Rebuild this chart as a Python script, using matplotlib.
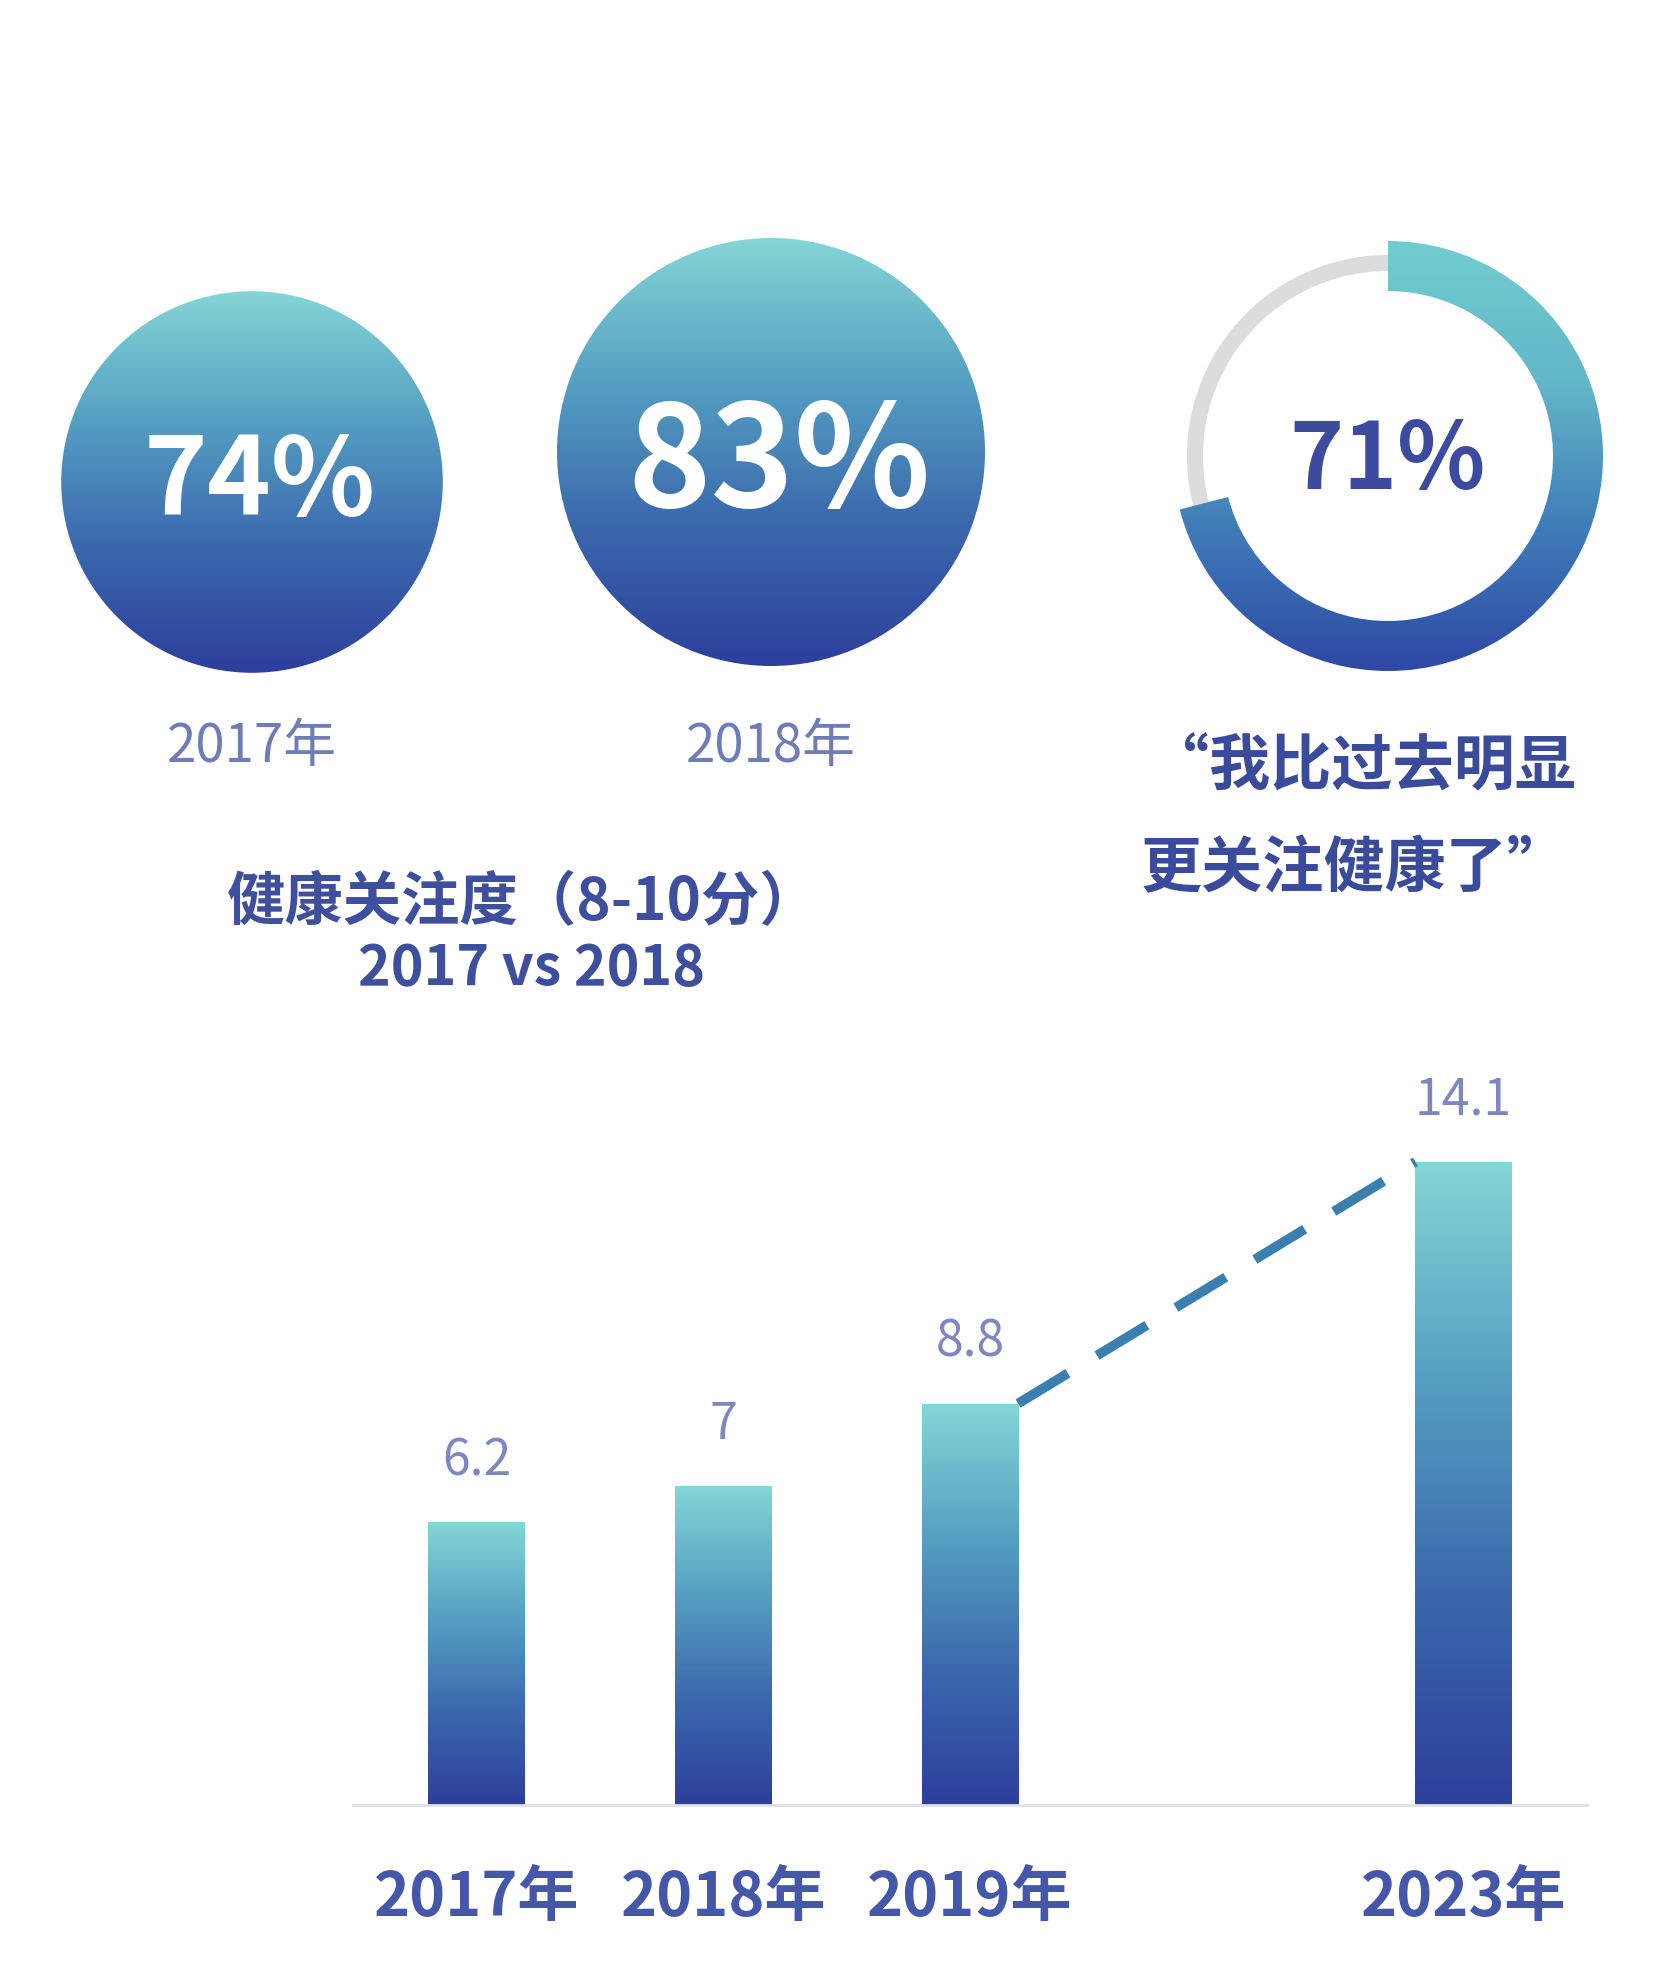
import numpy as np
import matplotlib
matplotlib.use("Agg")
import matplotlib.pyplot as plt
from matplotlib.colors import LinearSegmentedColormap
from matplotlib.patches import Circle, Wedge

plt.rcParams['font.family'] = ['Noto Sans CJK SC', 'DejaVu Sans']

# Data
circle_years = ["2017年", "2018年"]
circle_values = [74, 83]
ring_value = 71
title_lines = ["健康关注度（8-10分）", "2017 vs 2018"]
quote_lines = ["“我比过去明显", "更关注健康了”"]

bar_years = ["2017年", "2018年", "2019年", "2023年"]
bar_pos = [0, 1, 2, 4]
bar_values = [6.2, 7, 8.8, 14.1]
bar_texts = ["6.2", "7", "8.8", "14.1"]

W, H = 1654, 1975
grad = LinearSegmentedColormap.from_list(
    "grad", ["#2d3f9c", "#3b68ad", "#55a0c2", "#84d6d6"])
ring_grad = LinearSegmentedColormap.from_list(
    "ring", ["#2e48a4", "#3f7cb8", "#62b6c8", "#72cdd0"])
vgrad = np.linspace(0, 1, 256).reshape(-1, 1)

fig = plt.figure(figsize=(W / 100, H / 100), dpi=100)
fig.patch.set_facecolor("white")

# Background axes in pixel units (y measured downward from the top)
bg = fig.add_axes([0, 0, 1, 1])
bg.set_xlim(0, W)
bg.set_ylim(H, 0)
bg.axis("off")

def grad_circle(cx, cy, r, cmap):
    c = Circle((cx, cy), r, facecolor="none", edgecolor="none")
    bg.add_patch(c)
    im = bg.imshow(vgrad, cmap=cmap, origin="lower", aspect="auto",
                   extent=(cx - r, cx + r, cy + r, cy - r), zorder=1)
    im.set_clip_path(c)

# Two gradient circles, radius scaled by value
centers = [(252, 482), (771, 452)]
text_dy = [2, 14]
scale = 214 / 83
pct_sizes = [78, 102]
for (cx, cy), v, yr, fs, dy in zip(centers, circle_values, circle_years,
                                   pct_sizes, text_dy):
    grad_circle(cx, cy, v * scale, grad)
    bg.text(cx + 8, cy + dy, f"{v}%", color="white", fontsize=fs,
            fontweight="bold", ha="center", va="center", zorder=3)
    bg.text(cx, 746, yr, color="#6e7cb8", fontsize=38, ha="center", va="center")

# Ring for 71% (y axis is inverted, so angles run clockwise on screen)
rcx, rcy, R = 1388, 456, 215
bg.add_patch(Wedge((rcx, rcy), R - 14, 0, 360, width=16,
                   facecolor="#dcdcdc", edgecolor="none", zorder=1))
arc = Wedge((rcx, rcy), R, -90, -90 + 360 * ring_value / 100, width=50,
            facecolor="none", edgecolor="none")
bg.add_patch(arc)
im = bg.imshow(vgrad, cmap=ring_grad, origin="lower", aspect="auto",
               extent=(rcx - R, rcx + R, rcy + R, rcy - R), zorder=2)
im.set_clip_path(arc)
bg.text(rcx, rcy + 6, f"{ring_value}%", color="#3d4b9f", fontsize=66,
        fontweight="bold", ha="center", va="center")

# Titles and quote
bg.text(523, 902, title_lines[0], color="#3e4f9e", fontsize=42,
        fontweight="bold", ha="center", va="center")
bg.text(532, 969, title_lines[1], color="#3e4f9e", fontsize=40,
        fontweight="bold", ha="center", va="center")
bg.text(1362, 768, quote_lines[0], color="#3a4b9c", fontsize=44,
        fontweight="bold", ha="center", va="center")
bg.text(1355, 869, quote_lines[1], color="#3a4b9c", fontsize=44,
        fontweight="bold", ha="center", va="center")
bg.set_xlim(0, W)
bg.set_ylim(H, 0)

# Bar chart
ax = fig.add_axes([353 / W, (H - 1805) / H, (1587 - 353) / W, (1805 - 1050) / H])
ax.patch.set_alpha(0)
bars = ax.bar(bar_pos, bar_values, width=0.39, color="none", edgecolor="none")
for b in bars:
    x0, w, h = b.get_x(), b.get_width(), b.get_height()
    gim = ax.imshow(vgrad, cmap=grad, origin="lower", aspect="auto",
                    extent=(x0, x0 + w, 0, h), zorder=2)
    gim.set_clip_path(b)

for x, v, t in zip(bar_pos, bar_values, bar_texts):
    ax.annotate(t, (x, v), xytext=(0, 44), textcoords="offset points",
                ha="center", va="center", fontsize=36, color="#7d88c0")

half = bars[0].get_width() / 2
ax.plot([bar_pos[2] + half, bar_pos[3] - half], [bar_values[2], bar_values[3]],
        color="#3b7fb1", lw=7, dashes=(6, 3.5), solid_capstyle="butt",
        dash_capstyle="butt", zorder=3)

ax.set_xlim(-0.5, 4.5)
ax.set_ylim(0, 16.55)
ax.set_xticks(bar_pos)
ax.set_xticklabels(bar_years, fontsize=44, color="#4557a8", fontweight="bold")
ax.tick_params(axis="x", length=0, pad=45)
ax.set_yticks([])
for s in ["top", "left", "right"]:
    ax.spines[s].set_visible(False)
ax.spines["bottom"].set_color("#dde0ea")
ax.spines["bottom"].set_linewidth(2)

fig.savefig("out.png", dpi=100, facecolor="white")
